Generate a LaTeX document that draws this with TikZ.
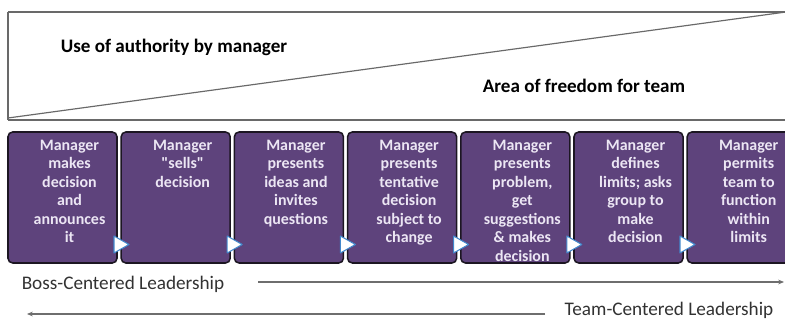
\documentclass[tikz,border=0pt]{standalone}
\usepackage{fontspec}
\setmainfont{Carlito}
\usetikzlibrary{arrows.meta}
\definecolor{stagefill}{RGB}{94,67,124}
\definecolor{stageedge}{RGB}{28,22,34}
\definecolor{stagetext}{RGB}{236,230,244}
\definecolor{markblue}{RGB}{66,136,204}
\definecolor{framegray}{RGB}{105,105,105}
\definecolor{arrowgray}{RGB}{110,110,110}
\definecolor{labelgray}{RGB}{50,50,50}
\begin{document}
\begin{tikzpicture}[x=0.03cm,y=-0.03cm,
  stagebox/.style={draw=stageedge,line width=1.3pt,fill=stagefill,rounded corners=4pt,
    minimum width=3.27cm,minimum height=3.93cm,inner sep=0pt},
  stagetxt/.style={anchor=north,align=center,inner sep=0pt,text=stagetext,
    font=\fontsize{13.6}{15.85}\selectfont\bfseries},
  marker/.style={fill=white,draw=markblue,line width=0.9pt,line join=round},
  headline/.style={inner sep=0pt,text=black,font=\fontsize{16.3}{19}\selectfont\bfseries},
  sidelabel/.style={inner sep=0pt,text=labelgray,font=\fontsize{16.4}{19}\selectfont},
  scale arrow/.style={draw=arrowgray,line width=1pt,-{Stealth[length=5pt,width=4pt]}}]
\useasboundingbox (0,0) rectangle (785,320);
\clip (0,0) rectangle (785,320);
\fill[white] (0,0) rectangle (785,320);

% authority / freedom split
\draw[framegray,line width=1.3pt] (8,12) -- (792,12) (792,120) -- (8,120) -- cycle;
\draw[framegray,line width=1.3pt] (8,12) -- (8,120);
\draw[framegray,line width=1pt] (8,118) -- (786,12);
\node[headline] (authority) at (174,47) {Use of authority by manager};
\node[headline] (freedom) at (584,86) {Area of freedom for team};

% continuum of stages
\foreach \i/\txt in {
  1/{Manager\\makes\\decision\\and\\announces\\it},
  2/{Manager\\\textquotedbl sells\textquotedbl\\decision},
  3/{Manager\\presents\\ideas and\\invites\\questions},
  4/{Manager\\presents\\tentative\\decision\\subject to\\change},
  5/{Manager\\presents\\problem,\\get\\suggestions\\\& makes\\decision},
  6/{Manager\\defines\\limits; asks\\group to\\make\\decision},
  7/{Manager\\permits\\team to\\function\\within\\limits}}{
  \pgfmathsetmacro{\cx}{62.5+113.2*(\i-1)}
  \node[stagebox] (s\i) at (\cx,197.5) {};
  \node[stagetxt] (t\i) at (\cx+7,139.5) {\txt};
}
\foreach \i in {1,...,6}{
  \pgfmathsetmacro{\rx}{62.5+113.2*(\i-1)+54.5}
  \draw[marker] (\rx-3,236) -- (\rx-3,253) -- (\rx+12,244.5) -- cycle;
}

% leadership direction
\node[sidelabel] (boss) at (123,284) {Boss-Centered Leadership};
\coordinate (bossfrom) at (258,282);
\coordinate (bossto) at (784,282);
\draw[scale arrow] (bossfrom) -- (bossto);
\node[sidelabel] (team) at (669,310) {Team-Centered Leadership};
\coordinate (teamfrom) at (545,314);
\coordinate (teamto) at (27,314);
\draw[scale arrow] (teamfrom) -- (teamto);
\end{tikzpicture}
\end{document}
